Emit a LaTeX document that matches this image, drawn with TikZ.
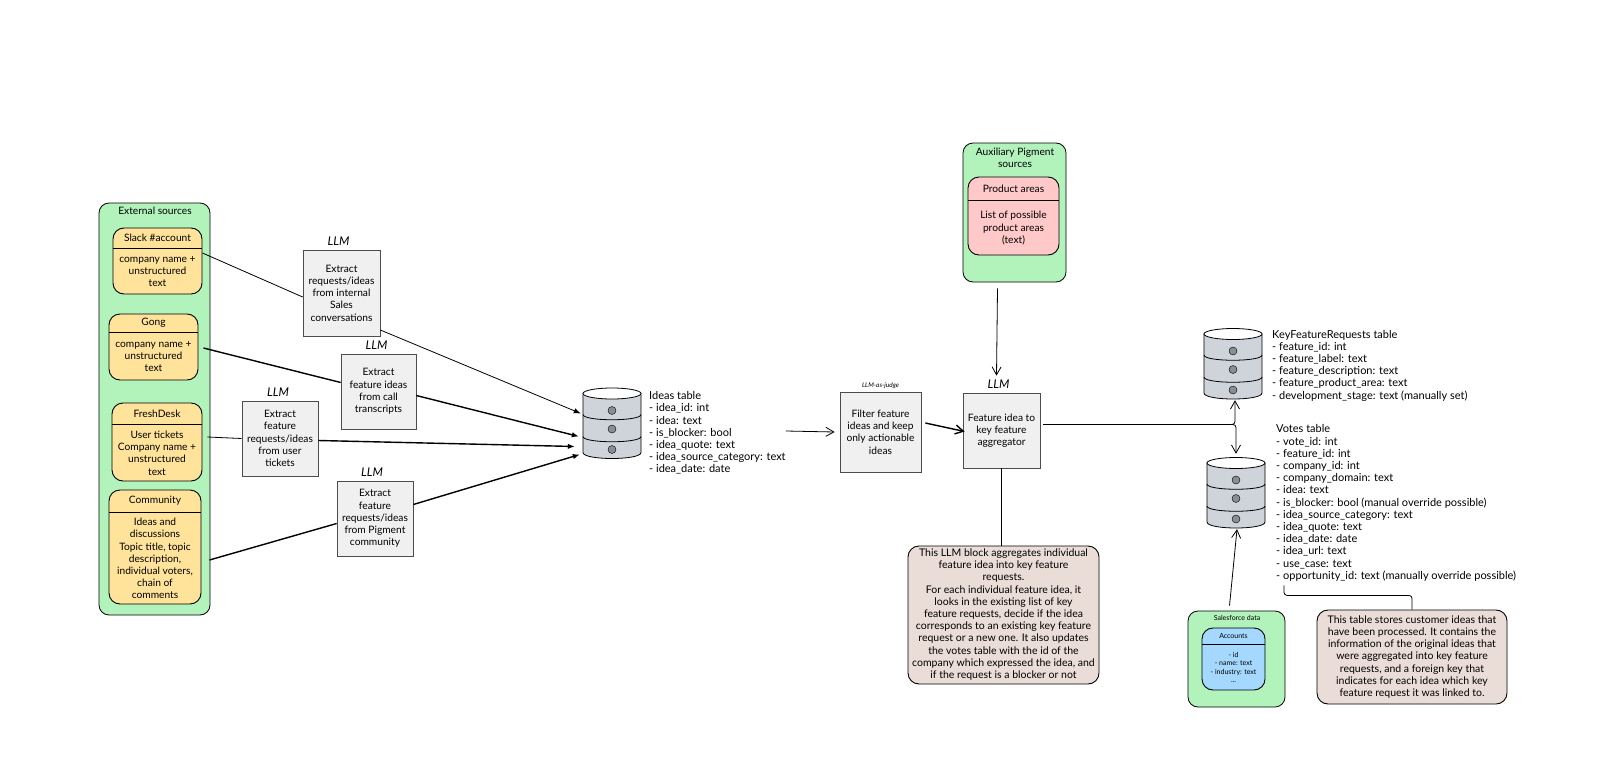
\documentclass[tikz,border=0pt]{standalone}
\usepackage{fontspec}
\setmainfont{Lato}
\usetikzlibrary{arrows.meta,positioning}
\begin{document}
\begin{tikzpicture}[x=1pt,y=-1pt,>={Straight Barb[length=8pt,width=9pt]},
	schrift/.style={font=\fontsize{10.2}{12.2}\selectfont,align=center,inner sep=0pt},
	langtext/.style={font=\fontsize{11}{12.2}\selectfont,align=center,inner sep=0pt},
	notiztext/.style={font=\fontsize{10.5}{12.2}\selectfont,align=center,inner sep=0pt},
	kartenfont/.style={},
	gruppe/.style={draw=black,line width=0.8pt,rounded corners=10pt,fill=gruen},
	karte/.style={draw=black,line width=0.9pt,rounded corners=11pt,inner sep=0pt},
	kasten/.style={draw=black!70,line width=0.7pt,fill=hellgrau,inner sep=0pt},
	notiz/.style={draw=black,line width=0.9pt,rounded corners=11pt,fill=beige,inner sep=0pt},
	modell/.style={font=\fontsize{12}{12}\itshape\selectfont,inner sep=0pt},
	liste/.style={langtext,align=left,anchor=west},
	kantenzug/.style={line width=0.8pt},
	kantendick/.style={line width=1.4pt},
	spitze/.style={-{Latex[length=7pt,width=5.5pt]}}]

\definecolor{gruen}{HTML}{B2F2BB}
\definecolor{gelb}{HTML}{FFE39A}
\definecolor{rosa}{HTML}{FFC9C9}
\definecolor{blau}{HTML}{A5D8FF}
\definecolor{beige}{HTML}{EADDD7}
\definecolor{hellgrau}{HTML}{F0F0F0}
\definecolor{zylgrau}{HTML}{CED4DA}
\definecolor{punktgrau}{HTML}{868E96}

\useasboundingbox (0,0) rectangle (1600,757);

\def\karte#1#2#3#4#5#6#7#8#9{
	\node[karte,fill=#7,minimum width=#4,minimum height=#5] (#1) at (#2,#3) {};
	\coordinate (#1r) at ([yshift=-#6pt]#1.north);
	\draw[line width=0.9pt] (#1.west |- #1r)--(#1.east |- #1r);
	\path (#1.north)--(#1r) node[midway,schrift,kartenfont] (#1t) {#8};
	\path (#1r)--(#1.south) node[midway,schrift,kartenfont] (#1b) {#9};
}

\def\feld#1#2#3#4#5#6{
	\node[kasten,minimum width=#4,minimum height=#5] (#1) at (#2,#3) {};
	\node[schrift] (#1t) at (#1) {#6};
}

\def\zylinder#1#2#3{
	\begin{scope}[shift={(#2,#3)}]
	\node[minimum width=58,minimum height=72,inner sep=0pt] (#1) at (0,0) {};
	\draw[fill=zylgrau,line width=0.8pt] (-29,-30)--(-29,29) .. controls (-29,37) and (29,37) .. (29,29)--(29,-30)--cycle;
	\draw[fill=white,line width=0.8pt] (0,-30) ellipse [x radius=29,y radius=5.5];
	\foreach \y in {-9,13}{
		\draw[line width=0.8pt] (-29,\y) .. controls (-29,\y+7) and (29,\y+7) .. (29,\y);
	}
	\foreach \y in {-13,5.5,26}{
		\fill[punktgrau] (0,\y) circle (4);
		\draw[line width=0.4pt] (0,\y) circle (4);
	}
	\end{scope}
}

\node[gruppe,minimum width=111,minimum height=412] (extern) at (154.5,409) {};
\node[schrift] (externt) at (155,211) {External sources};
\karte{slack}{157.5}{261}{89}{66}{21}{gelb}{Slack \#account}{company name +\\unstructured\\text}
\karte{gong}{153.5}{347}{89}{66}{19}{gelb}{Gong}{company name +\\unstructured\\text}
\karte{fresh}{157}{442}{90}{78}{22}{gelb}{FreshDesk}{User tickets\\Company name +\\unstructured\\text}
\karte{community}{155}{547}{92}{114}{23}{gelb}{Community}{Ideas and\\discussions\\Topic title, topic\\description,\\individual voters,\\chain of\\comments}

\feld{sales}{341.5}{293}{77}{86}{Extract\\requests/ideas\\from internal\\Sales\\conversations}
\feld{anruf}{378.5}{391.5}{75}{75}{Extract\\feature ideas\\from call\\transcripts}
\feld{ticket}{280}{438.5}{76}{75}{Extract\\feature\\requests/ideas\\from user\\tickets}
\feld{forum}{375}{518.5}{76}{75}{Extract\\feature\\requests/ideas\\from Pigment\\community}
\node[modell,above=4pt of sales,xshift=-3pt] (llmsales) {LLM};
\node[modell,above=4pt of anruf,xshift=-2pt] (llmanruf) {LLM};
\node[modell,above=4pt of ticket,xshift=-2pt] (llmticket) {LLM};
\node[modell,above=4pt of forum,xshift=-3pt] (llmforum) {LLM};

\zylinder{ideen}{612}{423.5}
\node[liste] (ideenliste) at (649,433) {Ideas table\\- idea\_id: int\\- idea: text\\- is\_blocker: bool\\- idea\_quote: text\\- idea\_source\_category: text\\- idea\_date: date};

\feld{filter}{880.5}{432}{81}{80}{Filter feature\\ideas and keep\\only actionable\\ideas}
\node[above=3pt of filter,font=\fontsize{6.5}{7}\itshape\selectfont,inner sep=0pt] (llmfilter) {LLM-as-judge};
\feld{aggregat}{1001.5}{430.5}{77}{75}{Feature idea to\\key feature\\aggregator}
\node[modell,above=4pt of aggregat,xshift=-3pt] (llmaggregat) {LLM};

\node[gruppe,minimum width=103,minimum height=139] (hilfe) at (1014.5,212.5) {};
\node[schrift] (hilfet) at (1015,158) {Auxiliary Pigment\\sources};
\karte{produkt}{1013.5}{216}{91}{78}{24}{rosa}{Product areas}{List of possible\\product areas\\(text)}

\zylinder{kfr}{1233}{364}
\node[liste] (kfrliste) at (1272,365.5) {KeyFeatureRequests table\\- feature\_id: int\\- feature\_label: text\\- feature\_description: text\\- feature\_product\_area: text\\- development\_stage: text (manually set)};
\zylinder{votes}{1236}{493}
\node[liste] (votesliste) at (1276,503) {Votes table\\- vote\_id: int\\- feature\_id: int\\- company\_id: int\\- company\_domain: text\\- idea: text\\- is\_blocker: bool (manual override possible)\\- idea\_source\_category: text\\- idea\_quote: text\\- idea\_date: date\\- idea\_url: text\\- use\_case: text\\- opportunity\_id: text (manually override possible)};

\node[notiz,minimum width=191,minimum height=138] (notizllm) at (1003.5,615) {};
\node[notiztext] (notizllmt) at (1003.5,614.5) {This LLM block aggregates individual\\feature idea into key feature\\requests.\\For each individual feature idea, it\\looks in the existing list of key\\feature requests, decide if the idea\\corresponds to an existing key feature\\request or a new one. It also updates\\the votes table with the id of the\\company which expressed the idea, and\\if the request is a blocker or not};
\node[notiz,minimum width=190,minimum height=94] (notizvotes) at (1412,657) {};
\node[notiztext] (notizvotest) at (1412,657) {This table stores customer ideas that\\have been processed. It contains the\\information of the original ideas that\\were aggregated into key feature\\requests, and a foreign key that\\indicates for each idea which key\\feature request it was linked to.};

\node[gruppe,minimum width=97,minimum height=96] (sf) at (1236.5,659) {};
\node[font=\fontsize{7}{8}\selectfont,inner sep=0pt] (sft) at (1237,618) {Salesforce data};
\begin{scope}[kartenfont/.style={font=\fontsize{7}{8.4}\selectfont}]
\karte{accounts}{1233.5}{659}{63}{62}{17}{blau}{Accounts}{- id\\- name: text\\- industry: text\\...}
\end{scope}

\draw[kantenzug] ([yshift=8pt]slack.east)--([yshift=-4pt]sales.west);
\draw[kantenzug,spitze] ([yshift=-37pt]sales.east)--([xshift=-2pt,yshift=10pt]ideen.west);
\draw[kantendick] ([xshift=5pt,yshift=-1pt]gong.east)--([yshift=9pt]anruf.west);
\draw[kantendick,spitze] ([yshift=-4pt]anruf.east)--([xshift=-4pt,yshift=-13pt]ideen.west);
\draw[kantenzug] ([xshift=5pt,yshift=5pt]fresh.east)--(ticket.west);
\draw[kantendick,spitze] ([yshift=-2pt]ticket.east)--([xshift=-8pt,yshift=-23pt]ideen.west);
\draw[kantendick] ([xshift=8pt,yshift=-13pt]community.east)--([yshift=-5pt]forum.west);
\draw[kantendick,spitze] ([yshift=14pt]forum.east)--([xshift=-3pt,yshift=-31pt]ideen.west);
\draw[kantenzug,->] ([xshift=0pt,yshift=2pt]ideenliste.east)--([xshift=-5pt]filter.west);
\draw[kantendick,->] ([xshift=4pt,yshift=9pt]filter.east)--([xshift=2pt,yshift=-1pt]aggregat.west);
\draw[kantenzug,->] ([xshift=-17pt,yshift=-6pt]hilfe.south)--([xshift=-2pt,yshift=4pt]llmaggregat.north);
\draw[kantendick] ([xshift=3pt,yshift=6pt]aggregat.east)--++(190,0) coordinate (abzweig);
\draw[kantenzug,->,rounded corners=3pt] (abzweig)-|([xshift=2pt]kfr.south);
\draw[kantenzug,->,rounded corners=3pt] (abzweig)-|([yshift=3pt]votes.north);
\draw[kantenzug] (aggregat.south)--(notizllm.north -| aggregat.south);
\draw[kantenzug,->] ([xshift=-7pt,yshift=5pt]sf.north)--([xshift=1pt]votes.south);
\draw[kantenzug,rounded corners=3pt] ([xshift=8pt,yshift=-4pt]votesliste.south west)--++(0,10)-|(notizvotes.north);

\end{tikzpicture}
\end{document}
